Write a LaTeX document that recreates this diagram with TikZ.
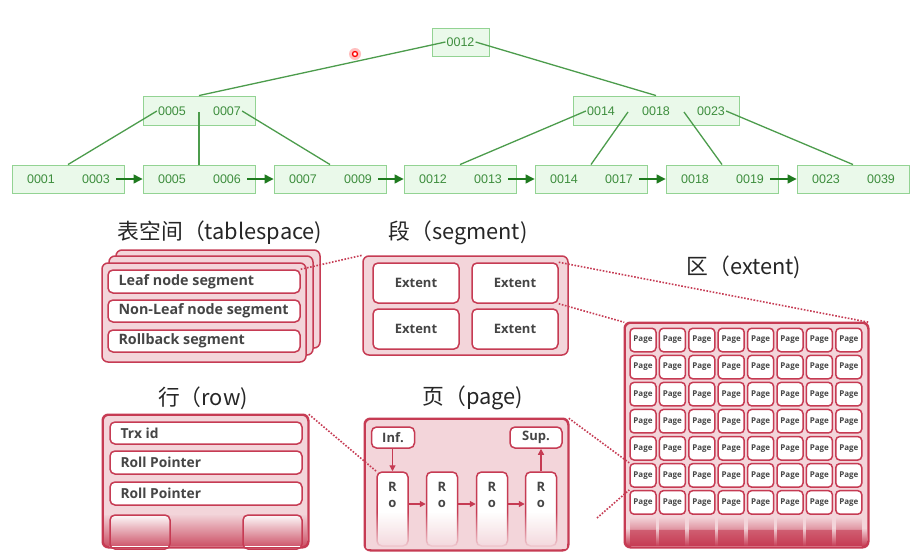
\documentclass[tikz,border=0pt]{standalone}
\usepackage{fontspec}
\setmainfont{Liberation Sans}
\newfontfamily\cjk{Noto Sans CJK SC}
\newfontfamily\boxfont{Open Sans}
\usetikzlibrary{arrows.meta,fadings}
\definecolor{gfill}{HTML}{EAF9EA}
\definecolor{gborder}{HTML}{93D393}
\definecolor{gtext}{HTML}{3E8E3E}
\definecolor{gline}{HTML}{4C9C4C}
\definecolor{garrow}{HTML}{1F7A1F}
\definecolor{crim}{HTML}{C63B53}
\definecolor{pinkf}{HTML}{F3D5DA}
\definecolor{tgray}{HTML}{454545}
\tikzfading[name=fadebottom, top color=transparent!100, bottom color=transparent!0]
\tikzset{
  gbox/.style={draw=gborder, fill=gfill, line width=0.9pt, minimum height=28pt, inner sep=0pt},
  gnum/.style={text=gtext, font=\fontsize{12.5}{14}\selectfont, inner sep=1pt},
  gedge/.style={draw=gline, line width=1.3pt},
  garr/.style={draw=garrow, line width=1.3pt, -{Triangle[length=9pt,width=9pt]}},
  outerbox/.style={draw=crim, fill=pinkf, line width=1.5pt, rounded corners=6pt, inner sep=0pt},
  innerbox/.style={draw=crim, fill=white, line width=1.5pt, rounded corners=5pt, inner sep=0pt},
  btext/.style={text=tgray, font=\boxfont\bfseries\fontsize{13}{15}\selectfont},
  tstext/.style={text=tgray, font=\boxfont\bfseries\fontsize{14.3}{16}\selectfont},
  rwtext/.style={text=tgray, font=\boxfont\bfseries\fontsize{13.8}{16}\selectfont},
  ptext/.style={text=tgray, font=\boxfont\bfseries\fontsize{8}{10}\selectfont},
  title/.style={text=black!85, font=\cjk\fontsize{21.8}{26}\selectfont, inner sep=0pt},
  dots/.style={draw=crim, line width=1.6pt, dash pattern=on 1.6pt off 1.6pt},
  rarr/.style={draw=crim, line width=1.3pt, -{Triangle[length=6pt,width=6pt]}},
}
\begin{document}
\begin{tikzpicture}[x=1pt,y=-1pt]
\useasboundingbox[fill=white] (0,0) rectangle (921,554);

% ---------------- B+ tree ----------------
\node[gbox, minimum width=57pt] (root) at (460.5,42) {};
\node[gbox, minimum width=112pt, minimum height=29pt] (midL) at (199,110.5) {};
\node[gbox, minimum width=166pt, minimum height=29pt] (midR) at (656,110.5) {};
\foreach \n/\cx in {1/68,2/199,3/330,4/460,5/591,6/722,7/853}{
  \node[gbox, minimum width=112pt] (leaf\n) at (\cx,179) {};
}
\node[gnum] (roott) at (460.5,42) {0012};
\node[gnum] (ma0005) at (172,111) {0005};
\node[gnum] (ma0007) at (227,111) {0007};
\node[gnum] (mb0014) at (601,111) {0014};
\node[gnum] (mb0018) at (656,111) {0018};
\node[gnum] (mb0023) at (711,111) {0023};
\foreach \n/\cx/\ta/\tb in {1/68/0001/0003,2/199/0005/0006,3/330/0007/0009,4/460/0012/0013,5/591/0014/0017,6/722/0018/0019,7/853/0023/0039}{
  \node[gnum] (lfx\n) at (\cx-27,179) {\ta};
  \node[gnum] (lfy\n) at (\cx+28,179) {\tb};
}
\coordinate (midLc) at (199,112);
\coordinate (midRc1) at (628,112);
\coordinate (midRc2) at (684,112);
\draw[gedge] (roott.west) -- (midL.north);
\draw[gedge] (roott.east) -- (midR.north);
\draw[gedge] (ma0005.west) -- (leaf1.north);
\draw[gedge] (midLc) -- (leaf2.north);
\draw[gedge] (ma0007.east) -- (leaf3.north);
\draw[gedge] (mb0014.west) -- (leaf4.north);
\draw[gedge] (midRc1) -- (leaf5.north);
\draw[gedge] (midRc2) -- (leaf6.north);
\draw[gedge] (mb0023.east) -- (leaf7.north);
\foreach \a/\b in {1/2,2/3,3/4,4/5,5/6,6/7}{
  \draw[garr] ([xshift=5pt]lfy\a.east) -- (leaf\b.west);
}
% cursor mark
\node[circle, fill=red!25, minimum size=12pt, inner sep=0pt] (cursorhalo) at (355,54) {};
\node[circle, draw=red, fill=white, line width=1.3pt, minimum size=5pt, inner sep=0pt] (cursor) at (355,54) {};

% ---------------- tablespace ----------------
\node[title] (tstitle) at (220,233) {表空间（tablespace)};
\node[outerbox, minimum width=204pt, minimum height=98pt] (tsback) at (218,299) {};
\node[outerbox, minimum width=204pt, minimum height=99pt] (tsmid) at (211,305.5) {};
\node[outerbox, minimum width=204pt, minimum height=99pt] (tsfront) at (204,312.5) {};
\node[innerbox, minimum width=192pt, minimum height=23pt] (tsr1) at (204,281.5) {};
\node[innerbox, minimum width=192pt, minimum height=22pt] (tsr2) at (204,311) {};
\node[innerbox, minimum width=192pt, minimum height=22pt] (tsr3) at (204,341) {};
\node[tstext, anchor=west] (tst1) at (115,281.5) {Leaf node segment};
\node[tstext, anchor=west] (tst2) at (115,311) {Non-Leaf node segment};
\node[tstext, anchor=west] (tst3) at (115,341) {Rollback segment};

% ---------------- segment ----------------
\node[title] (segtitle) at (458,233) {段（segment)};
\node[outerbox, minimum width=205pt, minimum height=99pt] (seg) at (465.5,305.5) {};
\node[innerbox, minimum width=86pt, minimum height=40pt, btext] (ext1) at (416,283) {Extent};
\node[innerbox, minimum width=86pt, minimum height=40pt, btext] (ext2) at (515,283) {Extent};
\node[innerbox, minimum width=86pt, minimum height=40pt, btext] (ext3) at (416,329) {Extent};
\node[innerbox, minimum width=86pt, minimum height=40pt, btext] (ext4) at (515,329) {Extent};

% ---------------- extent ----------------
\node[title] (exttitle) at (744,267) {区（extent)};
\node[outerbox, minimum width=243pt, minimum height=224pt] (extbox) at (746.5,435) {};
\foreach \i in {0,...,7}{
  \foreach \j in {0,...,6}{
    \node[innerbox, rounded corners=4pt, minimum width=26pt, minimum height=23.5pt, ptext] (p-\i-\j) at ({643+29.4*\i},{340+27.07*\j}) {Page};
  }
  \fill[crim, path fading=fadebottom] ({630+29.4*\i},517) rectangle ({656+29.4*\i},546);
  \fill[crim!80] ({630+29.4*\i},530) rectangle ({656+29.4*\i},546);
}
\fill[crim, path fading=fadebottom] (626,528) rectangle (867,546);
\draw[draw=crim, line width=1.5pt, rounded corners=6pt] (extbox.north west) rectangle (extbox.south east);

% ---------------- row ----------------
\node[title] (rowtitle) at (203,398) {行（row)};
\node[outerbox, minimum width=205pt, minimum height=132pt] (rowbox) at (205.5,481) {};
\node[innerbox, minimum width=192pt, minimum height=22pt] (rw1) at (206,433) {};
\node[innerbox, minimum width=192pt, minimum height=23pt] (rw2) at (206,462.5) {};
\node[innerbox, minimum width=192pt, minimum height=23pt] (rw3) at (206,493.5) {};
\node[rwtext, anchor=west] (rwt1) at (117,433) {Trx id};
\node[rwtext, anchor=west] (rwt2) at (117,462.5) {Roll Pointer};
\node[rwtext, anchor=west] (rwt3) at (117,493.5) {Roll Pointer};
\node[innerbox, minimum width=60pt, minimum height=34pt] (rw4) at (140,532) {};
\node[innerbox, minimum width=59pt, minimum height=34pt] (rw5) at (272.5,532) {};
\fill[crim, path fading=fadebottom, fill opacity=0.85] (104,514) rectangle (307,546);
\draw[draw=crim, line width=1.5pt, rounded corners=6pt] (rowbox.north west) rectangle (rowbox.south east);

% ---------------- page ----------------
\node[title] (pagetitle) at (473,398) {页（page)};
\node[outerbox, minimum width=203pt, minimum height=131pt] (pagebox) at (466.5,484.5) {};
\node[innerbox, minimum width=43pt, minimum height=21pt, btext] (inf) at (393,437.5) {Inf.};
\node[innerbox, minimum width=52pt, minimum height=21pt, btext] (sup) at (536,437.5) {Sup.};
\foreach \k/\cx in {1/392.5,2/442,3/492,4/541}{
  \node[innerbox, minimum width=31pt, minimum height=74pt] (ro\k) at (\cx,509) {};
  \node[btext] (r\k) at (\cx,487) {R};
  \node[btext] (o\k) at (\cx,504) {o};
}
\draw[rarr] (ro1.east |- o1) -- (ro2.west |- o1);
\draw[rarr] (ro2.east |- o1) -- (ro3.west |- o1);
\draw[rarr] (ro3.east |- o1) -- (ro4.west |- o1);
\draw[rarr] (ro1.north |- inf.south) -- (ro1.north);
\draw[rarr] (ro4.north) -- (ro4.north |- sup.south);
\fill[pinkf, path fading=fadebottom] (366,512) rectangle (567,549);
\draw[draw=crim, line width=1.5pt, rounded corners=6pt] (pagebox.north west) rectangle (pagebox.south east);

% ---------------- dotted zoom lines ----------------
\coordinate (pagefade) at (597,518);
\draw[dots] (tsr1.north east) -- (seg.north west);
\draw[dots] (ext2.north east) -- (extbox.north east);
\draw[dots] (ext2.south east) -- (extbox.north west);
\draw[dots] (rowbox.north east) -- (ro1.north west);
\draw[dots] (pagebox.north east) -- (p-0-5.north west);
\draw[dots] (pagefade) -- (p-0-6.north west);
\end{tikzpicture}
\end{document}
